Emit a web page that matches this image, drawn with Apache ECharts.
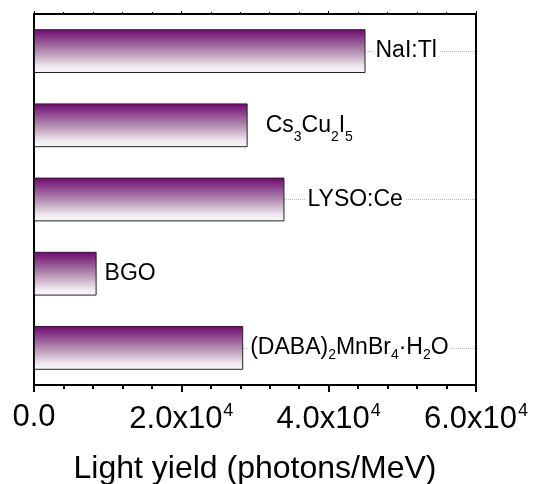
<!DOCTYPE html>
<html>
<head>
<meta charset="utf-8">
<script src="https://cdn.jsdelivr.net/npm/echarts@6/dist/echarts.min.js"></script>
<style>html,body{margin:0;padding:0;background:#fff}#c{width:533px;height:484px}</style>
</head>
<body>
<div id="c"></div>
<script>
// Data
var categories = ['NaI:Tl', 'Cs3Cu2I5', 'LYSO:Ce', 'BGO', '(DABA)2MnBr4·H2O'];
var labelTexts = ['NaI:Tl', 'Cs{cs|3}Cu{cs|2}I{cs|5}', 'LYSO:Ce', 'BGO', '(DABA){ds|2}MnBr{ds|4}·H{ds|2}O'];
var lightYield = [45000, 29000, 34000, 8500, 28400];
var labelGaps = [8, 16, 21, 6, 5];
var guideCategories = ['NaI:Tl', 'LYSO:Ce', '(DABA)2MnBr4·H2O'];
var xTickMax = 60000, xTickInterval = 20000;

var FONT = '"Liberation Sans", Arial, Helvetica, sans-serif';
var chart = echarts.init(document.getElementById('c'), null, {renderer: 'canvas'});

var grad = new echarts.graphic.LinearGradient(0, 0, 0, 1, [
  {offset: 0, color: '#680c6a'},
  {offset: 0.12, color: '#7f267f'},
  {offset: 0.5, color: '#b38bb1'},
  {offset: 0.85, color: '#efe8ef'},
  {offset: 1, color: '#fbfafb'}
]);

var data = lightYield.map(function (v, i) {
  return {
    value: v,
    label: {distance: labelGaps[i], formatter: labelTexts[i]}
  };
});

function tickFmt(v) {
  if (v === 0) return '{a|0.0}';
  var m = (v / 10000).toFixed(1);
  return '{a|' + m + 'x10}{sup|4}';
}

var option = {
  animation: false,
  backgroundColor: '#fff',
  grid: {left: 34, right: 57, top: 14, bottom: 99, containLabel: false, outerBoundsMode: 'none',
         show: true, borderColor: '#000', borderWidth: 2, backgroundColor: 'transparent'},
  xAxis: [{
    type: 'value', min: 0, max: xTickMax, interval: xTickInterval, position: 'bottom',
    name: 'Light yield (photons/MeV)', nameLocation: 'middle', nameGap: 68,
    nameTextStyle: {fontFamily: FONT, fontSize: 32, color: '#000'},
    axisLine: {show: true, lineStyle: {color: '#000', width: 2}},
    axisTick: {show: true, inside: false, length: 7, lineStyle: {color: '#000', width: 2}},
    minorTick: {show: true, splitNumber: 5, length: 4, lineStyle: {color: '#000', width: 2}},
    splitLine: {show: false},
    axisLabel: {
      margin: 17, formatter: tickFmt,
      rich: {
        a: {fontFamily: FONT, fontSize: 31, color: '#000'},
        sup: {fontFamily: FONT, fontSize: 18, color: '#000', padding: [0, 0, 17, 1]}
      }
    }
  }, {
    type: 'value', min: 0, max: xTickMax, interval: xTickInterval, position: 'top',
    axisLine: {show: true, lineStyle: {color: '#000', width: 2}},
    axisTick: {show: true, inside: false, length: 3, lineStyle: {color: '#000', width: 1}},
    minorTick: {show: true, splitNumber: 5, length: 2, lineStyle: {color: '#000', width: 1}},
    splitLine: {show: false},
    axisLabel: {show: false}
  }],
  yAxis: {
    type: 'category', data: categories, inverse: true,
    axisLine: {show: true, lineStyle: {color: '#000', width: 2}},
    axisTick: {show: true, inside: true, alignWithLabel: true, length: 3, lineStyle: {color: '#000', width: 1}},
    axisLabel: {show: false},
    splitLine: {show: false}
  },
  series: [{
    type: 'bar', data: data, barWidth: '59%', z: 3,
    itemStyle: {color: grad, borderColor: '#222', borderWidth: 1},
    label: {
      show: true, position: 'right', color: '#000', fontFamily: FONT, fontSize: 23,
      backgroundColor: '#fff', padding: [0, 2, 0, 2],
      rich: {
        cs: {fontFamily: FONT, fontSize: 14, color: '#000', padding: [24, 0, 0, 0]},
        ds: {fontFamily: FONT, fontSize: 14, color: '#000', padding: [14, 0, 0, 0]}
      }
    },
    markLine: {
      silent: true, z: 1, symbol: 'none', label: {show: false},
      lineStyle: {color: '#bbb', type: 'dotted', width: 1},
      data: guideCategories.map(function (c) { return {yAxis: c}; })
    }
  }]
};
chart.setOption(option);
</script>
</body>
</html>
